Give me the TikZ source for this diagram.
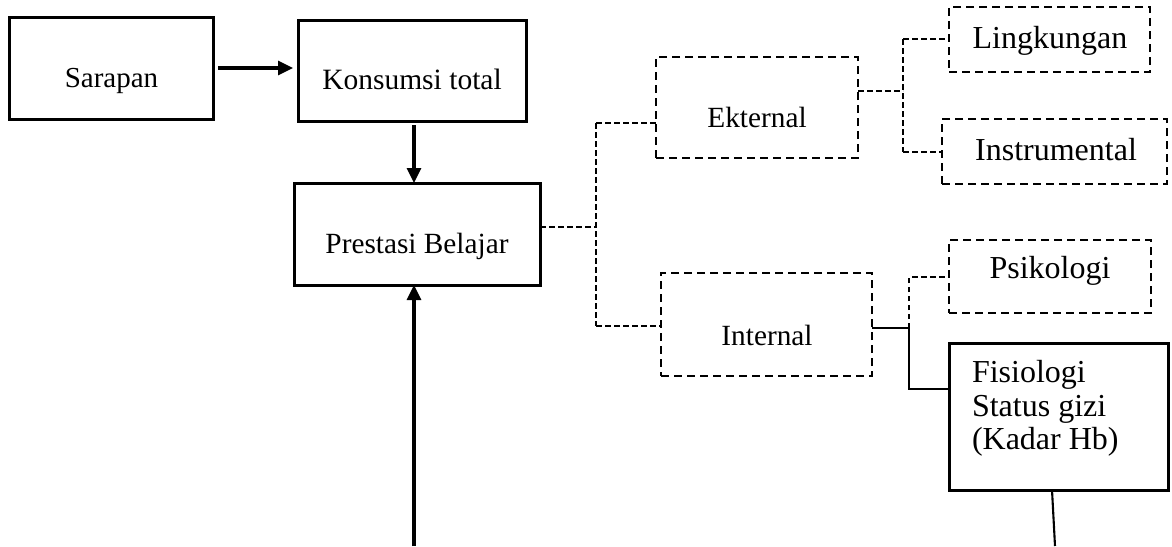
\documentclass[tikz,border=0pt]{standalone}
\usepackage{fontspec}
\setmainfont{Liberation Serif}
\usetikzlibrary{arrows.meta}
\newcommand\fsz[1]{\fontsize{#1}{#1}\selectfont}
\tikzset{
  solidbox/.style={draw, line width=3pt, inner sep=0pt, outer sep=0pt},
  dashbox/.style={draw, line width=2.8pt, dash pattern=on 8pt off 5pt, inner sep=0pt, outer sep=0pt},
  txt/.style={inner sep=0pt, outer sep=0pt, anchor=base},
  conndash/.style={line width=2.1pt, dash pattern=on 5.5pt off 3.5pt},
  connsolid/.style={line width=2.1pt},
  arr/.style={line width=3.2pt, -{Triangle[length=15pt,width=14pt]}}
}
\begin{document}
\begin{tikzpicture}[x=1pt,y=-1pt]
\useasboundingbox (0,0) rectangle (1172,546);
% boxes
\node[solidbox, minimum width=204pt, minimum height=102pt] (sar) at (111,68) {};
\node[solidbox, minimum width=228pt, minimum height=101pt] (kon) at (412,70.5) {};
\node[solidbox, minimum width=246pt, minimum height=102pt] (pre) at (417,234) {};
\node[dashbox, minimum width=202pt, minimum height=101pt] (ekt) at (757,107.5) {};
\node[dashbox, minimum width=211pt, minimum height=103pt] (int) at (766.5,324.5) {};
\node[dashbox, minimum width=201pt, minimum height=65pt] (lin) at (1049.5,39.5) {};
\node[dashbox, minimum width=225pt, minimum height=65pt] (ins) at (1054.5,151.5) {};
\node[dashbox, minimum width=202pt, minimum height=73pt] (psi) at (1050,276.5) {};
\node[solidbox, minimum width=219pt, minimum height=147pt] (fis) at (1058.5,416.5) {};
% texts
\node[txt, font=\fsz{29}] (sart) at (111.5,87) {Sarapan};
\node[txt, font=\fsz{29.5}] (kont) at (412,89) {Konsumsi total};
\node[txt, font=\fsz{29.3}] (pret) at (417,253) {Prestasi Belajar};
\node[txt, font=\fsz{29.3}] (ektt) at (757,127) {Ekternal};
\node[txt, font=\fsz{29.3}] (intt) at (767,345) {Internal};
\node[txt, font=\fsz{32}] (lint) at (1050,48) {Lingkungan};
\node[txt, font=\fsz{32}] (inst) at (1056,160) {Instrumental};
\node[txt, font=\fsz{32}] (psit) at (1050,278) {Psikologi};
\node[txt, font=\fsz{32}, anchor=base west] (fist1) at (972,382) {Fisiologi};
\node[txt, font=\fsz{32}, anchor=base west] (fist2) at (972,416) {Status gizi};
\node[txt, font=\fsz{32}, anchor=base west] (fist3) at (972,449) {(Kadar Hb)};
% junctions
\coordinate (j1) at (596,227);
\coordinate (j1t) at (596,123);
\coordinate (j1b) at (596,326);
\coordinate (j2) at (903,91);
\coordinate (j2t) at (903,39);
\coordinate (j2b) at (903,152);
\coordinate (j3) at (909,328);
\coordinate (j3t) at (909,277);
\coordinate (j3b) at (909,389);
\coordinate (b1) at (414,546);
\coordinate (b2) at (1055,546);
\coordinate (fb) at (1052,490);
% arrows
\draw[arr, shorten <=5pt, shorten >=5pt] (sar.east) -- (sar.east -| kon.west);
\draw[arr, shorten <=4pt] (414,121) -- (414,183);
\draw[arr] (b1) -- (b1 |- pre.south);
% dashed tree
\draw[conndash] (pre.east |- j1) -- (j1);
\draw[conndash] (j1t) -- (j1b);
\draw[conndash] (j1t) -- (ekt.west |- j1t);
\draw[conndash] (j1b) -- (int.west |- j1b);
\draw[conndash] (ekt.east |- j2) -- (j2);
\draw[conndash] (j2t) -- (j2b);
\draw[conndash] (j2t) -- (lin.west |- j2t);
\draw[conndash] (j2b) -- (ins.west |- j2b);
\draw[conndash] (j3) -- (j3t) -- (psi.west |- j3t);
\draw[connsolid] (int.east |- j3) -- (j3) -- (j3b) -- (fis.west |- j3b);
\draw[connsolid] (fb) -- (b2);
\end{tikzpicture}
\end{document}
